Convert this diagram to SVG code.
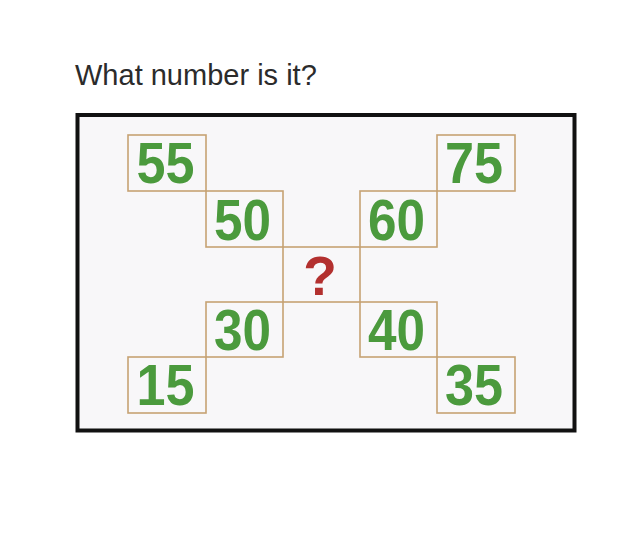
<svg xmlns="http://www.w3.org/2000/svg" width="640" height="556" viewBox="0 0 640 556">
<style>
.box{fill:none;stroke:#c6a274;stroke-width:1.6}
.num{font-family:"Liberation Sans",Arial,sans-serif;font-weight:bold;font-size:57px;fill:#4b9a3d}
.q{font-family:"Liberation Sans",Arial,sans-serif;font-weight:bold;font-size:55px;fill:#b3302f;text-anchor:middle}
.title{font-family:"Liberation Sans",Arial,sans-serif;font-size:29px;fill:#2b2b2b}
</style>
<rect x="0" y="0" width="640" height="556" fill="#ffffff"/>
<text class="title" x="75" y="85">What number is it?</text>
<rect id="frame" x="77.5" y="115" width="497" height="315.5" fill="#f8f7f9" stroke="#111111" stroke-width="4"/>
<g id="connectors"></g>
<g id="n55"><rect class="box" x="128" y="135" width="78" height="56"/><text class="num" x="136.5" y="183" textLength="58" lengthAdjust="spacingAndGlyphs">55</text></g>
<g id="n50"><rect class="box" x="206" y="191" width="77" height="56"/><text class="num" x="214" y="240" textLength="57" lengthAdjust="spacingAndGlyphs">50</text></g>
<g id="nq"><rect class="box" x="283" y="247" width="77" height="55"/><text class="q" x="320" y="295">?</text></g>
<g id="n60"><rect class="box" x="360" y="191" width="77" height="56"/><text class="num" x="368" y="240" textLength="57" lengthAdjust="spacingAndGlyphs">60</text></g>
<g id="n75"><rect class="box" x="437" y="135" width="78" height="56"/><text class="num" x="445" y="183" textLength="58" lengthAdjust="spacingAndGlyphs">75</text></g>
<g id="n30"><rect class="box" x="206" y="302" width="77" height="55"/><text class="num" x="214" y="350" textLength="57" lengthAdjust="spacingAndGlyphs">30</text></g>
<g id="n40"><rect class="box" x="360" y="302" width="77" height="55"/><text class="num" x="368" y="350" textLength="57" lengthAdjust="spacingAndGlyphs">40</text></g>
<g id="n15"><rect class="box" x="128" y="357" width="78" height="56"/><text class="num" x="136.5" y="405" textLength="58" lengthAdjust="spacingAndGlyphs">15</text></g>
<g id="n35"><rect class="box" x="437" y="357" width="78" height="56"/><text class="num" x="445" y="405" textLength="58" lengthAdjust="spacingAndGlyphs">35</text></g>
</svg>
